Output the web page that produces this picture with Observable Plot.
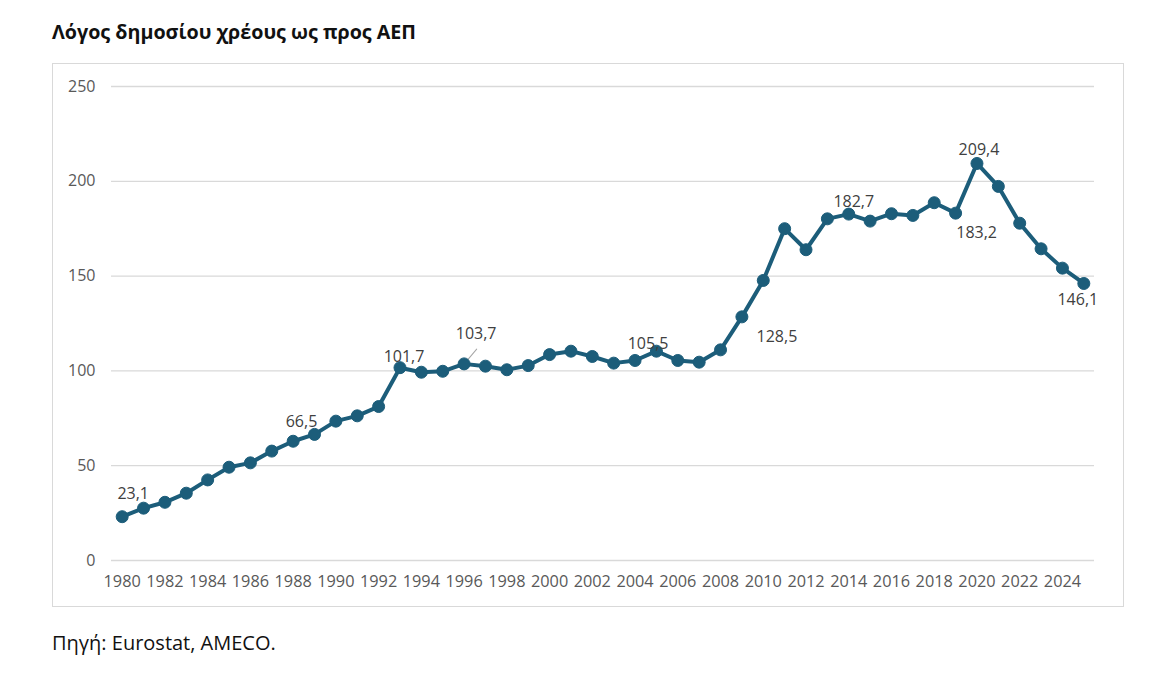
<!DOCTYPE html>
<html>
<head>
<meta charset="utf-8">
<script src="https://cdn.jsdelivr.net/npm/d3@7"></script>
<script src="https://cdn.jsdelivr.net/npm/@observablehq/plot@0.6"></script>
<style>
  html, body { margin: 0; padding: 0; background: #fff; }
  body { width: 1172px; height: 694px; position: relative; overflow: hidden; font-family: "Open Sans", sans-serif; }
  #title { position: absolute; left: 52px; top: 18px; font-size: 19.7px; font-weight: 700; color: #111; }
  #box { position: absolute; left: 52px; top: 63px; width: 1072px; height: 544px; border: 1px solid #d9d9d9; box-sizing: border-box; }
  #chart { position: absolute; left: 0; top: 63px; }
  #source { position: absolute; left: 52px; top: 629px; font-size: 20px; color: #111; }
</style>
</head>
<body>
<div id="title">Λόγος δημοσίου χρέους ως προς ΑΕΠ</div>
<div id="box"></div>
<div id="chart"></div>
<div id="source">Πηγή: Eurostat, AMECO.</div>
<script>
const years = d3.range(1980, 2026);
const debt = [
  23.1, 27.6, 30.7, 35.5, 42.5, 49.2, 51.5, 57.7, 62.9, 66.5,
  73.5, 76.3, 81.2, 101.7, 99.3, 99.8, 103.7, 102.5, 100.6, 102.8,
  108.6, 110.4, 107.6, 104.1, 105.5, 110.4, 105.5, 104.6, 111.1, 128.5,
  147.7, 175.0, 163.9, 180.2, 182.7, 179.0, 182.9, 182.0, 188.7, 183.2,
  209.4, 197.3, 177.9, 164.4, 154.2, 146.1
];
const labelYears = [1980, 1989, 1993, 1996, 2004, 2009, 2014, 2019, 2020, 2025];
const yTicks = [0, 50, 100, 150, 200, 250];
const xTicks = d3.range(1980, 2025, 2);

const data = years.map((year, i) => ({year, value: debt[i]}));
const labels = data.filter(d => labelYears.includes(d.year));

// label placement (pixel offsets relative to each point)
const offsets = {
  1980: [11, -23], 1989: [-13, -13], 1993: [4, -11], 1996: [12, -30],
  2004: [13, -17], 2009: [35, 20], 2014: [5, -12], 2019: [21, 20],
  2020: [2, -14], 2025: [-6, 16]
};
const fmt = v => v.toFixed(1).replace(".", ",");
const color = "#1c5d7a";
const textColor = "#595959";

const textMarks = labels.map(d => Plot.text([d], {
  x: "year", y: "value", text: t => fmt(t.value),
  dx: offsets[d.year][0], dy: offsets[d.year][1],
  fill: "#404040", fontSize: 16, textAnchor: "middle", lineAnchor: "middle"
}));

const chart = Plot.plot({
  width: 1172,
  height: 542,
  marginLeft: 111,
  marginRight: 78,
  marginTop: 23,
  marginBottom: 45,
  style: { fontFamily: "Open Sans, sans-serif", fontSize: "16px", background: "transparent", overflow: "visible" },
  x: { domain: [1979.5, 2025.5], axis: null },
  y: { domain: [0, 250], axis: null },
  marks: [
    Plot.ruleY(yTicks, { stroke: "#d9d9d9", strokeWidth: 1.3 }),
    Plot.axisY({ ticks: yTicks, tickSize: 0, tickPadding: 16, fill: textColor, fontSize: 16, label: null }),
    Plot.axisX({ ticks: xTicks, tickSize: 0, tickPadding: 15, tickFormat: d => String(d), fill: textColor, fontSize: 16.3, label: null }),
    Plot.vector(labels.filter(d => d.year === 1996), {
      x: "year", y: "value", anchor: "start", length: 18, rotate: 40,
      dx: 1, dy: -1,
      stroke: "#a6a6a6", strokeWidth: 1,
      shape: { draw(context, l) { context.moveTo(0, 0); context.lineTo(0, -l); } }
    }),
    Plot.line(data, { x: "year", y: "value", stroke: color, strokeWidth: 4, strokeLinejoin: "round" }),
    Plot.dot(data, { x: "year", y: "value", r: 6, fill: color, stroke: color, strokeWidth: 1 }),
    ...textMarks
  ]
});
document.getElementById("chart").appendChild(chart);
</script>
</body>
</html>
